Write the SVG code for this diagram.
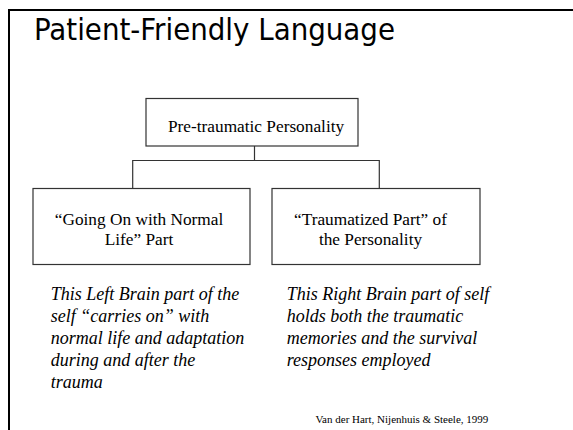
<svg xmlns="http://www.w3.org/2000/svg" width="573" height="430" viewBox="0 0 573 430">
<style>
.frame{fill:none;stroke:#000;stroke-width:2}
.box{fill:#fff;stroke:#333;stroke-width:1.2}
.conn{fill:none;stroke:#333;stroke-width:1.2}
.title{font-family:"DejaVu Sans Condensed","DejaVu Sans",sans-serif;font-size:30px;fill:#000}
.lbl{font-family:"Liberation Serif","Times New Roman",serif;font-size:17.3px;fill:#000}
.it{font-family:"Liberation Serif","Times New Roman",serif;font-size:18px;font-style:italic;fill:#000}
.cite{font-family:"Liberation Serif","Times New Roman",serif;font-size:11px;fill:#000}
</style>
<rect width="573" height="430" fill="#fff"/>
<path class="frame" d="M9,432 V10 H575"/>
<text class="title" x="34" y="40" textLength="361" lengthAdjust="spacingAndGlyphs">Patient-Friendly Language</text>
<g id="connectors">
<path class="conn" d="M254.5,146 V160.5 M132.7,188 V160.5 H379.3 V188"/>
</g>
<g id="node-pre">
<rect class="box" x="146" y="98.5" width="212" height="47.5"/>
<text class="lbl" x="168" y="131.5">Pre-traumatic Personality</text>
</g>
<g id="node-anp">
<rect class="box" x="33" y="188.5" width="217" height="76"/>
<text class="lbl" x="139" y="225" text-anchor="middle">“Going On with Normal</text>
<text class="lbl" x="139" y="245" text-anchor="middle">Life” Part</text>
</g>
<g id="node-ep">
<rect class="box" x="272" y="188.5" width="208" height="76"/>
<text class="lbl" x="370.5" y="225" text-anchor="middle">“Traumatized Part” of</text>
<text class="lbl" x="370.5" y="245" text-anchor="middle">the Personality</text>
</g>
<g id="desc-left">
<text class="it" x="50.7" y="300">This Left Brain part of the</text>
<text class="it" x="50.7" y="322">self “carries on” with</text>
<text class="it" x="50.7" y="344">normal life and adaptation</text>
<text class="it" x="50.7" y="366">during and after the</text>
<text class="it" x="50.7" y="388">trauma</text>
</g>
<g id="desc-right">
<text class="it" x="286.7" y="300">This Right Brain part of self</text>
<text class="it" x="286.7" y="322">holds both the traumatic</text>
<text class="it" x="286.7" y="344">memories and the survival</text>
<text class="it" x="286.7" y="366">responses employed</text>
</g>
<text class="cite" x="488.3" y="423" text-anchor="end">Van der Hart, Nijenhuis &amp; Steele, 1999</text>
</svg>
